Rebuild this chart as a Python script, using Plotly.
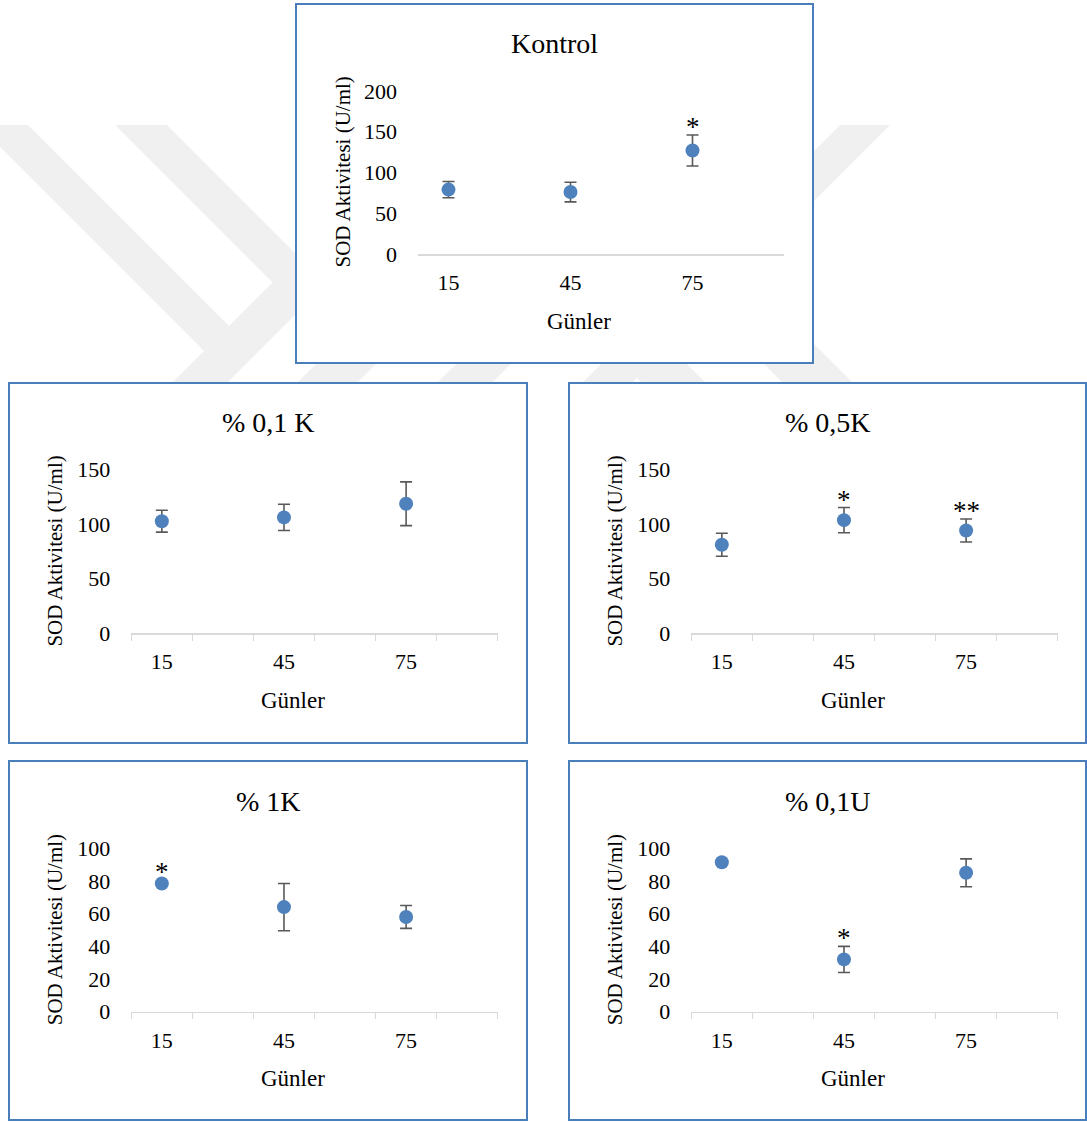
import plotly.graph_objects as go

# ---------------- data ----------------
days = [15, 45, 75]
panel_titles = ["Kontrol", "% 0,1 K", "% 0,5K", "% 1K", "% 0,1U"]

kontrol_mean = [79, 76, 127]
kontrol_err = [10, 12, 19]
k01_mean = [102.5, 106, 118.5]
k01_err = [10, 12, 20]
k05_mean = [81, 103.5, 94]
k05_err = [10.5, 11.5, 10.5]
k1_mean = [78.5, 64, 58]
k1_err = [1, 14.5, 7]
u01_mean = [91.5, 32, 85]
u01_err = [1, 8, 8.5]

kontrol_sig = ["", "", "*"]
k01_sig = ["", "", ""]
k05_sig = ["", "*", "**"]
k1_sig = ["*", "", ""]
u01_sig = ["", "*", ""]

y_max = [200, 150, 150, 100, 100]
y_step = [50, 50, 50, 20, 20]

x_title = "Günler"
y_title = "SOD Aktivitesi (U/ml)"

means = [kontrol_mean, k01_mean, k05_mean, k1_mean, u01_mean]
errs = [kontrol_err, k01_err, k05_err, k1_err, u01_err]
sigs = [kontrol_sig, k01_sig, k05_sig, k1_sig, u01_sig]

# ---------------- layout geometry (pixels) ----------------
W, H = 1087, 1122
FONT = "Liberation Serif"
BLUE = "#4f81bd"

# plot area: x0, x1, ytop, ybottom
plots = [
    (418, 784, 91, 254),
    (131.3, 497.7, 469.3, 633.3),
    (691.3, 1057.7, 469.3, 633.3),
    (131.3, 497.7, 848.3, 1011.7),
    (691.3, 1057.7, 848.3, 1011.7),
]
boxes = [
    (296, 4, 813, 363),
    (9, 383, 527, 743),
    (569, 383, 1086, 743),
    (9, 761, 527, 1120),
    (569, 761, 1086, 1120),
]
show_minor = [False, True, True, True, True]


def px(x):
    return x / W


def py(y):
    return 1 - y / H


fig = go.Figure()
shapes = []
annotations = []

# faint background watermark (decorative bands)
wm = [
    [(-22, 125), (28, 125), (229, 326), (204, 351)],
    [(115, 125), (167, 125), (361, 319), (335, 345)],
    [(298.5, 256.5), (326, 284), (227, 383), (172, 383)],
    [(361, 319), (391, 349), (357, 383), (297, 383)],
    [(500, 320), (527.5, 347.5), (492, 383), (437, 383)],
    [(840, 125), (890, 125), (632, 383), (582, 383)],
    [(612, 353), (644, 321), (706, 383), (642, 383)],
    [(650, 250), (720, 250), (853, 383), (783, 383)],
]
for poly in wm:
    path = "M " + " L ".join(f"{px(a):.5f},{py(b):.5f}" for a, b in poly) + " Z"
    shapes.append(dict(type="path", path=path, xref="paper", yref="paper",
                       fillcolor="#f0f0f0", line=dict(width=0), layer="below"))

slot = (days[1] - days[0]) / 2
x_range = [days[0] - slot / 2, days[-1] + 1.5 * slot]

for i in range(5):
    n = "" if i == 0 else str(i + 1)
    x0, x1, yt, yb = plots[i]
    bx0, by0, bx1, by1 = boxes[i]
    shapes.append(dict(type="rect", xref="paper", yref="paper",
                       x0=px(bx0), x1=px(bx1), y0=py(by1), y1=py(by0),
                       fillcolor="white", line=dict(color="#4a7ebb", width=2),
                       layer="below"))

    fig.add_trace(go.Scatter(
        x=days, y=means[i], mode="markers",
        marker=dict(color=BLUE, size=14),
        error_y=dict(type="data", array=errs[i], visible=True,
                     color="#595959", thickness=1.6, width=6),
        xaxis="x" + n, yaxis="y" + n, showlegend=False, hoverinfo="skip"))

    xa = dict(domain=[px(x0), px(x1)], range=x_range, anchor="y" + n,
              tickmode="array", tickvals=days, ticktext=[str(d) for d in days],
              ticks="", showgrid=False, zeroline=False, automargin=False,
              showline=True, linecolor="#d9d9d9", linewidth=1.5,
              tickfont=dict(family=FONT, size=22, color="black"),
              ticklabelstandoff=8, fixedrange=True)
    if show_minor[i]:
        xa["minor"] = dict(ticks="outside", tick0=x_range[0], dtick=slot,
                           ticklen=6, tickcolor="#d9d9d9", tickwidth=1.5,
                           showgrid=False)
    ya = dict(domain=[py(yb), py(yt)], range=[0, y_max[i]], anchor="x" + n,
              tickmode="linear", tick0=0, dtick=y_step[i], ticks="",
              showgrid=False, zeroline=False, showline=False, automargin=False,
              tickfont=dict(family=FONT, size=22, color="black"),
              ticklabelstandoff=20, fixedrange=True)
    fig.layout["xaxis" + n] = xa
    fig.layout["yaxis" + n] = ya

    # panel title
    annotations.append(dict(text=panel_titles[i], xref="paper", yref="paper",
                            x=px((bx0 + bx1) / 2), y=py(by0 + 40),
                            showarrow=False,
                            font=dict(family=FONT, size=28, color="black"),
                            xanchor="center", yanchor="middle"))
    # axis titles
    annotations.append(dict(text=x_title, xref="paper", yref="paper",
                            x=px((x0 + x1) / 2 - 22), y=py(yb + 67),
                            showarrow=False,
                            font=dict(family=FONT, size=23, color="black"),
                            xanchor="center", yanchor="middle"))
    annotations.append(dict(text=y_title, xref="paper", yref="paper",
                            x=px(x0 - 76), y=py((yt + yb) / 2),
                            showarrow=False, textangle=-90,
                            font=dict(family=FONT, size=21, color="black"),
                            xanchor="center", yanchor="middle"))
    # significance marks
    scale = (yb - yt) / y_max[i]
    for d, m, e, s in zip(days, means[i], errs[i], sigs[i]):
        if s:
            shift = max(e * scale + 8, 11)
            annotations.append(dict(text=s, xref="x" + n, yref="y" + n,
                                    x=d, y=m, yshift=shift, showarrow=False,
                                    font=dict(family=FONT, size=27, color="black"),
                                    xanchor="center", yanchor="middle"))

fig.update_layout(width=W, height=H, margin=dict(l=0, r=0, t=0, b=0, pad=0),
                  autosize=False,
                  paper_bgcolor="white", plot_bgcolor="rgba(0,0,0,0)",
                  shapes=shapes, annotations=annotations, showlegend=False)

fig.write_html("out.html",
               config={"displayModeBar": False, "staticPlot": True},
               post_script="document.body.style.margin='0px';"
                           "document.body.style.overflow='hidden';")
